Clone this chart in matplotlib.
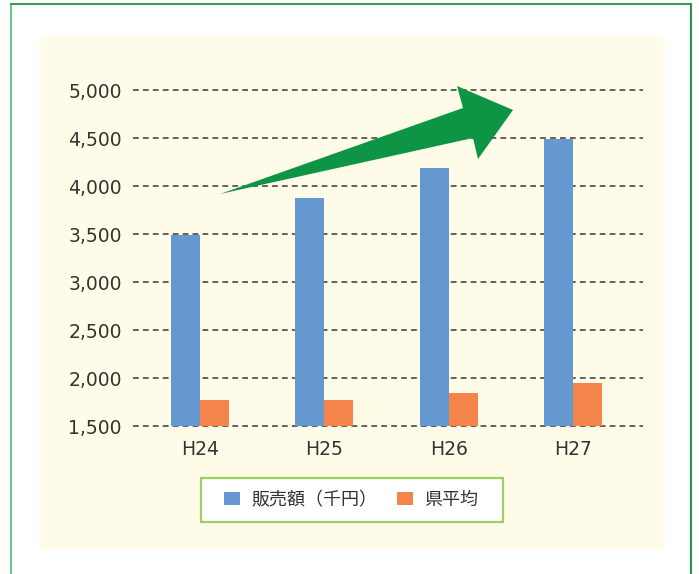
import numpy as np
import matplotlib
matplotlib.use('Agg')
from matplotlib import pyplot as plt
from matplotlib.patches import Rectangle, Polygon
from matplotlib.lines import Line2D

plt.rcParams['font.family'] = ['DejaVu Sans', 'Noto Sans CJK JP']

# data
years = ['H24', 'H25', 'H26', 'H27']
sales = [3490, 3875, 4185, 4490]        # 販売額（千円）
pref_avg = [1770, 1770, 1845, 1950]     # 県平均
yticks = [1500, 2000, 2500, 3000, 3500, 4000, 4500, 5000]

W, H = 699, 574
fig = plt.figure(figsize=(W / 100, H / 100), dpi=100)
fig.patch.set_facecolor('white')

def fx(px):
    return px / W

def fy(py):
    return 1 - py / H

# cream panel behind the chart
fig.patches.append(Rectangle((fx(41), fy(549)), fx(663) - fx(41), fy(36) - fy(549),
                             transform=fig.transFigure, facecolor='#FEFBE8',
                             edgecolor='none', zorder=-5))

# outer green frame (bottom edge is cut off)
fig.lines.append(Line2D([fx(10.5), fx(10.5)], [fy(574), fy(4)], transform=fig.transFigure,
                        color='#6cc68a', lw=1.5, zorder=-4))
fig.lines.append(Line2D([fx(10.5), fx(690.5)], [fy(4), fy(4)], transform=fig.transFigure,
                        color='#3a9a5c', lw=1.5, zorder=-4))
fig.lines.append(Line2D([fx(690.5), fx(690.5)], [fy(4), fy(574)], transform=fig.transFigure,
                        color='#2f8f55', lw=1.5, zorder=-4))

ax = fig.add_axes([fx(133), fy(426), fx(643) - fx(133), fy(90) - fy(426)])
ax.set_facecolor('none')

x = np.arange(len(years))
w = 0.233
ax.bar(x - w / 2, sales, w, color='#6598D1', label='販売額（千円）', zorder=3)
ax.bar(x + w / 2, pref_avg, w, color='#F5844A', label='県平均', zorder=3)

ax.set_xlim(-0.539, 3.563)
ax.set_ylim(1500, 5000)
ax.set_yticks(yticks)
ax.set_yticklabels(['{:,}'.format(v) for v in yticks])
ax.set_xticks(x)
ax.set_xticklabels(years)
ax.tick_params(length=0, labelsize=13.5, colors='#333333')
ax.tick_params(axis='y', pad=8)
ax.tick_params(axis='x', pad=10)
for s in ax.spines.values():
    s.set_visible(False)
for v in yticks:
    ax.axhline(v, color='#555555', lw=1.3, ls=(0, (3.2, 2.3)), zorder=1, clip_on=False)

# green trend arrow
pts = [(220, 194), (463, 108), (457, 86), (513, 110), (478, 159), (473, 138)]
fig.patches.append(Polygon([(fx(a), fy(b)) for a, b in pts], closed=True,
                           transform=fig.transFigure, facecolor='#0E9445',
                           edgecolor='none', zorder=5))

# legend box
fig.patches.append(Rectangle((fx(201), fy(522)), fx(503) - fx(201), fy(478) - fy(522),
                             transform=fig.transFigure, facecolor='white',
                             edgecolor='#9BD05C', lw=1.6, zorder=4))
leg = fig.legend(loc='center', bbox_to_anchor=(fx(351), fy(500)), ncol=2,
                 prop={'family': ['Noto Sans CJK JP'], 'size': 13},
                 handlelength=0.9, handleheight=0.75, handletextpad=0.6,
                 columnspacing=1.1, borderpad=0.3, frameon=False)
leg.set_zorder(6)
for t in leg.get_texts():
    t.set_color('#333333')

fig.savefig('out.png', dpi=100)
